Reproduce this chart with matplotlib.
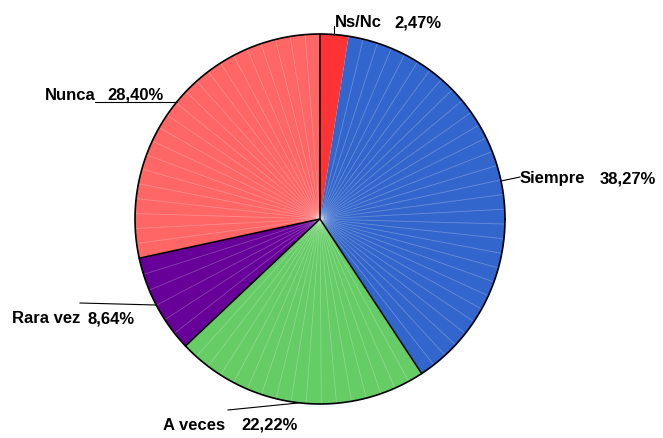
import numpy as np
import matplotlib.pyplot as plt

plt.rcParams['font.family'] = ['Liberation Sans', 'DejaVu Sans']

labels = ['Ns/Nc', 'Siempre', 'A veces', 'Rara vez', 'Nunca']
values = [2.47, 38.27, 22.22, 8.64, 28.40]
colors = ['#ff3333', '#3366cc', '#66cc66', '#660099', '#ff6666']

W, H = 663, 439
fig = plt.figure(figsize=(W / 100, H / 100), dpi=100)
ax = fig.add_axes([0, 0, 1, 1])

cx, cy, R = 320, H - 220, 185
wedges, _ = ax.pie(values, colors=colors, startangle=90, counterclock=False,
                   center=(cx, cy), radius=R, frame=True,
                   wedgeprops=dict(edgecolor='none', linewidth=0))
ax.set_xlim(0, W)
ax.set_ylim(0, H)
ax.set_aspect('equal')
ax.axis('off')

# faint radial stripes inside each slice
for w in wedges:
    t1, t2 = sorted((w.theta1, w.theta2))
    n = max(int((t2 - t1) / 4.5), 1)
    for a in np.linspace(t1, t2, n + 1)[1:-1]:
        r = np.radians(a)
        ax.plot([cx, cx + R * np.cos(r)], [cy, cy + R * np.sin(r)],
                color='white', lw=0.6, alpha=0.25, zorder=3)

# outline and slice borders (no border between Ns/Nc and Siempre)
th = np.linspace(0, 2 * np.pi, 400)
ax.plot(cx + R * np.cos(th), cy + R * np.sin(th), color='black', lw=1.2, zorder=4)
for i, w in enumerate(wedges):
    if i == 1:
        continue
    r = np.radians(w.theta2)
    ax.plot([cx, cx + R * np.cos(r)], [cy, cy + R * np.sin(r)],
            color='black', lw=1.1, zorder=4)

# labels: (name x, value x, baseline y) in pixels, leader line points
label_pos = [(335, 394, 27), (520, 600, 183), (163, 241, 430), (12, 87, 323), (45, 107, 100)]
leaders = [[(334, 27), (334, 36)],
           [(520, 178), (501, 182)],
           [(228, 411), (298, 404)],
           [(80, 304), (156, 306)],
           [(95, 103), (177, 103)]]

for lab, v, (xn, xv, yb), ln in zip(labels, values, label_pos, leaders):
    ax.text(xn, H - yb, lab, fontsize=12, fontweight='bold', ha='left', va='baseline')
    ax.text(xv, H - yb, f"{v:.2f}".replace('.', ',') + '%', fontsize=12,
            fontweight='bold', ha='left', va='baseline')
    xs, ys = zip(*ln)
    ax.plot(xs, [H - y for y in ys], color='black', lw=0.8, zorder=5)

fig.savefig('out.png', dpi=100)
